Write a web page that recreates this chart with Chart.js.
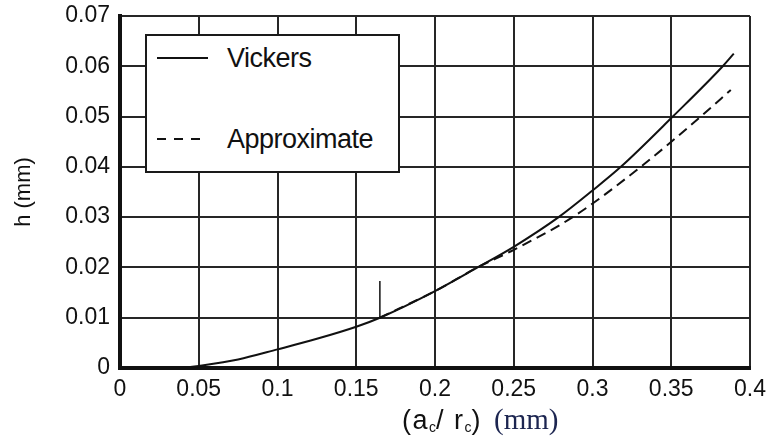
<!DOCTYPE html>
<html>
<head>
<meta charset="utf-8">
<script src="https://cdn.jsdelivr.net/npm/chart.js@4.4.0/dist/chart.umd.min.js"></script>
<style>
    html, body { margin: 0; padding: 0; background: #fff; }
    #wrap { position: relative; width: 768px; height: 436px; overflow: hidden; background: #fff; }
    #legend {
        position: absolute; left: 145px; top: 34px; width: 251px; height: 135px;
        border: 2px solid #1a1a1a; background: #fff;
        font-family: 'Liberation Sans', Arial, sans-serif; font-size: 27px; color: #111;
    }
    .lg-item { position: absolute; left: 10px; height: 30px; width: 230px; }
    .lg-line { position: absolute; left: 0; top: 14px; height: 2px; }
    .lg-text { position: absolute; left: 70px; top: 0; line-height: 30px; white-space: nowrap; letter-spacing: -0.5px; }
    #xtitle { position: absolute; left: 402px; top: 404px; white-space: nowrap; line-height: 30px; }
    #xtitle .sans { font-family: 'Liberation Sans', Arial, sans-serif; font-size: 27px; color: #111; letter-spacing: 1.5px; }
    #xtitle .serif { font-family: 'Liberation Serif', 'Times New Roman', serif; font-size: 29px; color: #1c2550; margin-left: 12px; }
    #xtitle sub { font-size: 14px; vertical-align: -3px; letter-spacing: 0; }
</style>
</head>
<body>
<div id="wrap">
    <canvas id="chart" width="768" height="436"></canvas>
    <div id="legend"></div>
    <div id="xtitle"><span class="sans">(a<sub>c</sub>/ r<sub>c</sub>)</span><span class="serif">(mm)</span></div>
</div>
<script>
// values
const vickersX = [0.04, 0.05, 0.075, 0.1, 0.125, 0.15, 0.165, 0.2, 0.227, 0.25, 0.2785, 0.3, 0.318, 0.351, 0.3827, 0.3897];
const vickersH = [0, 0.0004, 0.0017, 0.0037, 0.0058, 0.0082, 0.0100, 0.0153, 0.0200, 0.0241, 0.0300, 0.0353, 0.0400, 0.0500, 0.0600, 0.0625];

const approxX = [0.165, 0.2, 0.227, 0.25, 0.2874, 0.3306, 0.3687, 0.3878];
const approxH = [0.0100, 0.0153, 0.0200, 0.0235, 0.0300, 0.0400, 0.0500, 0.0553];

// short vertical mark where the approximation starts
const markX = [0.165, 0.165];
const markH = [0.0100, 0.0173];

const xTickValues = [0, 0.05, 0.1, 0.15, 0.2, 0.25, 0.3, 0.35, 0.4];
const xTickLabels = ['0', '0.05', '0.1', '0.15', '0.2', '0.25', '0.3', '0.35', '0.4'];
const yTickValues = [0, 0.01, 0.02, 0.03, 0.04, 0.05, 0.06, 0.07];
const yTickLabels = ['0', '0.01', '0.02', '0.03', '0.04', '0.05', '0.06', '0.07'];

const toPoints = (xs, ys) => xs.map((x, i) => ({ x, y: ys[i] }));
const ink = '#111';
const gridInk = '#262626';
const tickFont = { family: "'Liberation Sans', Arial, sans-serif", size: 23 };

const chart = new Chart(document.getElementById('chart').getContext('2d'), {
    type: 'line',
    data: {
        datasets: [
            { label: 'Vickers', data: toPoints(vickersX, vickersH), borderColor: ink, borderWidth: 2, pointRadius: 0, cubicInterpolationMode: 'monotone', fill: false },
            { label: 'Approximate', data: toPoints(approxX, approxH), borderColor: ink, borderWidth: 2, borderDash: [10, 6], pointRadius: 0, cubicInterpolationMode: 'monotone', fill: false },
            { label: '', data: toPoints(markX, markH), borderColor: ink, borderWidth: 1.5, pointRadius: 0, fill: false },
        ],
    },
    options: {
        responsive: false,
        animation: false,
        devicePixelRatio: 1,
        layout: { padding: { left: 0, top: 16, right: 18, bottom: 0 } },
        plugins: { legend: { display: false }, tooltip: { enabled: false } },
        scales: {
            x: {
                type: 'linear', min: 0, max: 0.4,
                afterBuildTicks: (s) => { s.ticks = xTickValues.map((v) => ({ value: v })); },
                afterFit: (s) => { s.height = 68; s.paddingLeft = 0; s.paddingRight = 0; },
                grid: { color: gridInk, lineWidth: 2, drawTicks: false },
                border: { color: ink, width: 4 },
                ticks: { color: ink, font: tickFont, padding: 8, maxRotation: 0, callback: (v, i) => xTickLabels[i] },
            },
            y: {
                type: 'linear', min: 0, max: 0.07,
                afterBuildTicks: (s) => { s.ticks = yTickValues.map((v) => ({ value: v })); },
                afterFit: (s) => { s.width = 120; s.paddingTop = 0; s.paddingBottom = 0; },
                grid: { color: gridInk, lineWidth: 2, drawTicks: false },
                border: { color: ink, width: 4 },
                ticks: { color: ink, font: tickFont, padding: 10, callback: (v, i) => yTickLabels[i] },
                title: { display: true, text: 'h (mm)', color: ink, font: { family: "'Liberation Sans', Arial, sans-serif", size: 22 }, padding: { top: 11, bottom: 0 } },
            },
        },
    },
});

// legend box drawn inside the plot, built from the labelled datasets
const legendEl = document.getElementById('legend');
const legendRows = [7, 88];
chart.data.datasets.filter((d) => d.label).forEach((d, i) => {
    const item = document.createElement('div');
    item.className = 'lg-item';
    item.style.top = legendRows[i] + 'px';
    const line = document.createElement('span');
    line.className = 'lg-line';
    if (d.borderDash) {
        line.style.width = '43px';
        line.style.background = 'repeating-linear-gradient(to right, ' + ink + ' 0 9px, transparent 9px 17px)';
    } else {
        line.style.width = '51px';
        line.style.background = ink;
    }
    const text = document.createElement('span');
    text.className = 'lg-text';
    text.textContent = d.label;
    item.appendChild(line);
    item.appendChild(text);
    legendEl.appendChild(item);
});
</script>
</body>
</html>
